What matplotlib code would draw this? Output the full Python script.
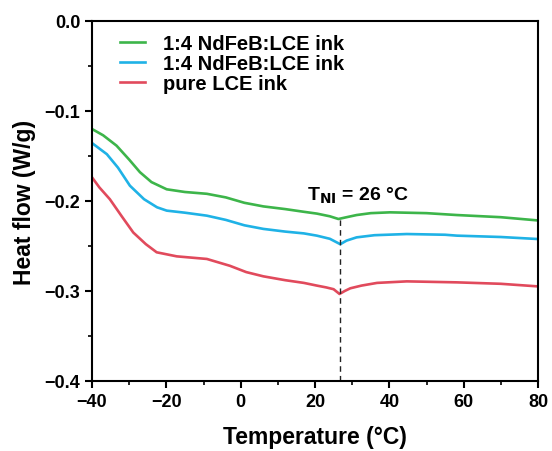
import numpy as np
import matplotlib.pyplot as plt
from matplotlib.ticker import MultipleLocator

plt.rcParams['font.family'] = ['Liberation Sans', 'DejaVu Sans']
plt.rcParams['font.weight'] = 'bold'

# DSC traces (temperature in degC, heat flow in W/g)
temp_green = [-40, -37, -33.4, -30, -27.1, -24, -19.9, -15, -9.1, -4, 1, 6.1, 12, 17, 20.5, 24, 26.3, 28.5, 31.2, 35, 40.2, 50, 58.2, 70, 79.7]
flow_green = [-0.120, -0.127, -0.1385, -0.154, -0.168, -0.179, -0.187, -0.190, -0.192, -0.196, -0.202, -0.206, -0.209, -0.212, -0.214, -0.217, -0.220, -0.218, -0.2156, -0.2135, -0.2126, -0.2135, -0.2156, -0.218, -0.2215]

temp_blue = [-40, -36, -33, -29.8, -26, -22.5, -19.9, -15, -9.1, -4, 1, 6.1, 12, 17, 20.5, 24, 26.8, 28.5, 31.2, 36, 44.7, 55, 58.2, 70, 79.7]
flow_blue = [-0.1356, -0.148, -0.163, -0.183, -0.198, -0.207, -0.2107, -0.213, -0.2163, -0.221, -0.227, -0.231, -0.234, -0.236, -0.2385, -0.242, -0.248, -0.244, -0.2404, -0.238, -0.2367, -0.2375, -0.2385, -0.240, -0.2422]

temp_red = [-40, -38, -35.2, -32, -28.9, -25.5, -22.6, -17.2, -9.1, -2.9, 1.5, 6.1, 12, 17, 20.5, 23, 25, 26.6, 28, 29.5, 32.5, 36.7, 44.7, 58.2, 70, 79.7]
flow_red = [-0.1737, -0.185, -0.198, -0.217, -0.235, -0.248, -0.257, -0.2615, -0.2644, -0.272, -0.279, -0.2837, -0.288, -0.291, -0.294, -0.296, -0.298, -0.3033, -0.300, -0.297, -0.294, -0.291, -0.2893, -0.2904, -0.292, -0.2948]

labels = ['1:4 NdFeB:LCE ink', '1:4 NdFeB:LCE ink', 'pure LCE ink']
colors = ['#3db54a', '#1fb2e6', '#e14a5c']
x_ticks = [-40, -20, 0, 20, 40, 60, 80]
y_ticks = [0.0, -0.1, -0.2, -0.3, -0.4]
t_ni = 26.8

fig = plt.figure(figsize=(5.52, 4.52), dpi=100)
ax = fig.add_axes([92 / 552, 70 / 452, 446 / 552, 360 / 452])

for t, f, c, lab in zip([temp_green, temp_blue, temp_red],
                        [flow_green, flow_blue, flow_red], colors, labels):
    ax.plot(t, f, color=c, linewidth=1.9, label=lab)

ax.plot([t_ni, t_ni], [-0.4, -0.220], color='#222222', linestyle=(0, (4, 3)), linewidth=1.0)
ax.text(t_ni + 4.7, -0.193, r'T$_{\mathbf{NI}}$ = 26 °C', fontsize=14, fontweight='bold',
        ha='center', va='center')

ax.set_xlim(-40, 80)
ax.set_ylim(-0.4, 0.0)
ax.set_xticks(x_ticks)
ax.set_xticklabels([f'{v:g}'.replace('-', '\u2212') for v in x_ticks])
ax.set_yticks(y_ticks)
ax.set_yticklabels([f'{v:.1f}'.replace('-', '\u2212') for v in y_ticks])
ax.xaxis.set_minor_locator(MultipleLocator(10))
ax.yaxis.set_minor_locator(MultipleLocator(0.05))
ax.tick_params(which='major', direction='out', length=5, width=1.5, labelsize=13)
ax.tick_params(which='minor', direction='out', length=3, width=1.2)
for s in ax.spines.values():
    s.set_linewidth(1.5)

ax.set_xlabel('Temperature (°C)', fontsize=16.5, fontweight='bold', labelpad=11)
ax.set_ylabel('Heat flow (W/g)', fontsize=16.5, fontweight='bold', labelpad=6)

ax.legend(loc='upper left', frameon=False, fontsize=14.5, handlelength=1.25,
          borderaxespad=0.0, handletextpad=0.9, labelspacing=0.05,
          bbox_to_anchor=(0.045, 0.985))

fig.savefig('out.png', dpi=100)
